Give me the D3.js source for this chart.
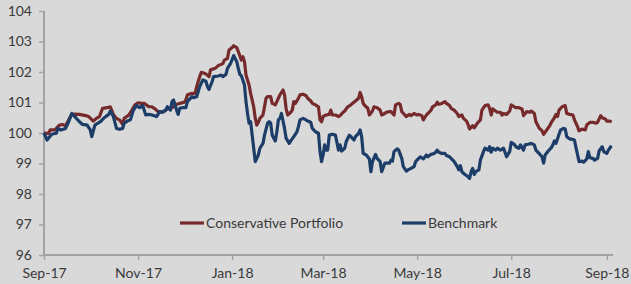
<!DOCTYPE html>
<html>
<head>
<meta charset="utf-8">
<script src="https://cdn.jsdelivr.net/npm/d3@7"></script>
<style>
  html, body { margin: 0; padding: 0; background: #d9d9d9; }
  svg { display: block; }
  .axis text { font-family: "Lato", "Open Sans", sans-serif; font-size: 14px; fill: #3a3a3a; }
  .legend text { font-family: "Lato", "Open Sans", sans-serif; font-size: 14px; fill: #3a3a3a; }
</style>
</head>
<body>
<svg id="chart" width="631" height="284"></svg>
<script>
// ---- data ----
const seriesNames = ["Conservative Portfolio", "Benchmark"];
const seriesColors = ["#762a2b", "#1d3d69"];

const portfolioDates = [
  "2017-09-01","2017-09-04","2017-09-05","2017-09-08","2017-09-09","2017-09-11","2017-09-13","2017-09-15","2017-09-17","2017-09-19",
  "2017-09-21","2017-09-24","2017-09-28","2017-09-30","2017-10-03","2017-10-05","2017-10-07","2017-10-09","2017-10-12","2017-10-14",
  "2017-10-16","2017-10-18","2017-10-20","2017-10-22","2017-10-23","2017-10-26","2017-10-28","2017-10-30","2017-11-01","2017-11-03",
  "2017-11-05","2017-11-08","2017-11-10","2017-11-12","2017-11-14",
  "2017-11-16","2017-11-18","2017-11-20","2017-11-22","2017-11-24","2017-11-26","2017-11-28","2017-12-01","2017-12-02","2017-12-03",
  "2017-12-06","2017-12-08","2017-12-09","2017-12-11","2017-12-12","2017-12-14","2017-12-16","2017-12-17","2017-12-18","2017-12-21",
  "2017-12-23","2017-12-25","2017-12-26","2017-12-27","2017-12-29","2017-12-30","2018-01-01","2018-01-02","2018-01-04","2018-01-05",
  "2018-01-07","2018-01-08","2018-01-09","2018-01-10","2018-01-12","2018-01-13","2018-01-15","2018-01-16","2018-01-17","2018-01-18",
  "2018-01-19","2018-01-21","2018-01-22","2018-01-23","2018-01-24","2018-01-26","2018-01-27","2018-01-29",
  "2018-01-30","2018-02-01","2018-02-03","2018-02-04","2018-02-05","2018-02-06","2018-02-08","2018-02-09","2018-02-10","2018-02-11",
  "2018-02-13","2018-02-14","2018-02-16","2018-02-18","2018-02-19","2018-02-21","2018-02-22","2018-02-24","2018-02-26","2018-02-27",
  "2018-02-28","2018-03-01","2018-03-03","2018-03-05","2018-03-06","2018-03-07","2018-03-09","2018-03-11","2018-03-12","2018-03-14",
  "2018-03-15","2018-03-17","2018-03-19","2018-03-20","2018-03-22","2018-03-24","2018-03-25","2018-03-26","2018-03-27","2018-03-28",
  "2018-03-30","2018-03-31","2018-04-02","2018-04-03","2018-04-05","2018-04-07","2018-04-08","2018-04-10","2018-04-11","2018-04-13",
  "2018-04-14","2018-04-16","2018-04-17","2018-04-19","2018-04-20","2018-04-21","2018-04-23","2018-04-24","2018-04-26","2018-04-27",
  "2018-04-29","2018-05-01","2018-05-02","2018-05-04","2018-05-05","2018-05-07","2018-05-08","2018-05-10","2018-05-11","2018-05-13",
  "2018-05-14","2018-05-15","2018-05-17","2018-05-19","2018-05-20","2018-05-22","2018-05-23","2018-05-25","2018-05-27","2018-05-28",
  "2018-05-30","2018-05-31","2018-06-02","2018-06-03","2018-06-04","2018-06-06","2018-06-07","2018-06-09","2018-06-11","2018-06-12",
  "2018-06-14","2018-06-16","2018-06-17","2018-06-18","2018-06-19","2018-06-20","2018-06-22","2018-06-24","2018-06-25","2018-06-26",
  "2018-06-28","2018-06-30","2018-07-01","2018-07-03","2018-07-04","2018-07-06","2018-07-08","2018-07-09","2018-07-11","2018-07-13",
  "2018-07-14","2018-07-16","2018-07-17","2018-07-19","2018-07-21","2018-07-22","2018-07-24","2018-07-26","2018-07-27","2018-07-29",
  "2018-07-30","2018-07-31","2018-08-01","2018-08-03","2018-08-05","2018-08-06","2018-08-08","2018-08-10","2018-08-11","2018-08-13",
  "2018-08-14","2018-08-16","2018-08-18","2018-08-19","2018-08-21","2018-08-23","2018-08-25","2018-08-26","2018-08-28","2018-08-29",
  "2018-08-31","2018-09-01","2018-09-03","2018-09-04"
];
const portfolioValues = [
  100.00, 99.99, 100.10, 100.10, 100.15, 100.26, 100.28, 100.24, 100.43, 100.61,
  100.62, 100.61, 100.57, 100.54, 100.39, 100.48, 100.54, 100.81, 100.83, 100.86,
  100.61, 100.48, 100.43, 100.28, 100.48, 100.59, 100.75, 100.92, 100.99, 100.97,
  100.97, 100.86, 100.86, 100.79, 100.70,
  100.68, 100.72, 100.79, 100.81, 100.86, 100.94, 100.97, 101.01, 101.08, 101.25,
  101.30, 101.30, 101.52, 101.85, 101.99, 101.96, 101.90, 101.85, 102.07, 102.12,
  102.21, 102.25, 102.28, 102.39, 102.45, 102.72, 102.80, 102.86, 102.80, 102.67,
  102.39, 102.50, 102.34, 101.90, 101.57, 101.30, 100.86, 100.48, 100.26, 100.35,
  100.48, 100.59, 100.86, 101.14, 101.19, 101.19, 100.97, 100.92,
  101.03, 101.25, 101.41, 101.25, 100.81, 100.59, 100.68, 100.75, 101.03, 100.97,
  101.14, 101.25, 101.27, 101.22, 101.14, 101.05, 100.97, 100.92, 100.86, 100.43,
  100.37, 100.54, 100.59, 100.61, 100.75, 100.59, 100.59, 100.54, 100.57, 100.68,
  100.72, 100.86, 100.92, 100.97, 101.05, 101.14, 101.33, 101.19, 100.97, 100.90,
  100.81, 100.59, 100.72, 100.86, 100.83, 100.75, 100.59, 100.64, 100.68, 100.70,
  100.70, 100.59, 100.92, 100.97, 100.94, 100.70, 100.59, 100.54, 100.61, 100.57,
  100.64, 100.59, 100.61, 100.57, 100.43, 100.59, 100.64, 100.75, 100.86, 100.92,
  101.01, 100.94, 100.97, 101.03, 100.97, 100.90, 100.81, 100.75, 100.64, 100.54,
  100.59, 100.48, 100.39, 100.28, 100.13, 100.24, 100.17, 100.32, 100.43, 100.75,
  100.90, 100.92, 100.81, 100.59, 100.79, 100.75, 100.68, 100.68, 100.59, 100.64,
  100.61, 100.72, 100.92, 100.86, 100.83, 100.83, 100.79, 100.57, 100.70, 100.68,
  100.72, 100.64, 100.37, 100.17, 100.07, 99.96, 100.10, 100.24, 100.35, 100.50,
  100.61, 100.54, 100.75, 100.86, 100.90, 100.64, 100.61, 100.59, 100.43, 100.21,
  100.07, 100.13, 100.10, 100.26, 100.35, 100.35, 100.32, 100.35, 100.57, 100.50,
  100.46, 100.39, 100.39, 100.35
];

const benchmarkDates = [
  "2017-09-01","2017-09-03","2017-09-06","2017-09-09","2017-09-10","2017-09-12","2017-09-15","2017-09-17","2017-09-19","2017-09-22",
  "2017-09-24","2017-09-26","2017-09-29","2017-10-01","2017-10-02","2017-10-04","2017-10-06","2017-10-08","2017-10-10","2017-10-13",
  "2017-10-14","2017-10-16","2017-10-18","2017-10-20","2017-10-22","2017-10-23","2017-10-25","2017-10-27","2017-10-29","2017-10-31",
  "2017-11-02","2017-11-04","2017-11-06","2017-11-08","2017-11-10","2017-11-13","2017-11-15",
  "2017-11-17","2017-11-19","2017-11-20","2017-11-22","2017-11-23","2017-11-24","2017-11-26","2017-11-27","2017-11-28","2017-11-30",
  "2017-12-02","2017-12-03","2017-12-06","2017-12-07","2017-12-09","2017-12-11","2017-12-13","2017-12-15","2017-12-16","2017-12-17",
  "2017-12-19","2017-12-20","2017-12-23","2017-12-25","2017-12-26","2017-12-28","2017-12-29","2017-12-31","2018-01-02","2018-01-04",
  "2018-01-05","2018-01-06","2018-01-07","2018-01-09","2018-01-10","2018-01-11","2018-01-12","2018-01-13","2018-01-14","2018-01-16",
  "2018-01-18","2018-01-19","2018-01-21","2018-01-22","2018-01-24","2018-01-25","2018-01-26","2018-01-27","2018-01-29",
  "2018-01-30","2018-01-31","2018-02-01","2018-02-02","2018-02-04","2018-02-05","2018-02-07","2018-02-08","2018-02-10","2018-02-12",
  "2018-02-13","2018-02-14","2018-02-16","2018-02-18","2018-02-19","2018-02-21","2018-02-22","2018-02-24","2018-02-26","2018-02-27",
  "2018-02-28","2018-03-01","2018-03-02","2018-03-03","2018-03-04","2018-03-05","2018-03-07","2018-03-09","2018-03-11","2018-03-12",
  "2018-03-13","2018-03-15","2018-03-16","2018-03-18","2018-03-19","2018-03-21","2018-03-22","2018-03-24","2018-03-25","2018-03-26",
  "2018-03-27","2018-03-29","2018-03-31","2018-04-01","2018-04-02","2018-04-04","2018-04-05","2018-04-07","2018-04-08","2018-04-10",
  "2018-04-11","2018-04-13",
  "2018-04-14","2018-04-15","2018-04-16","2018-04-18","2018-04-19","2018-04-21","2018-04-22","2018-04-24","2018-04-25","2018-04-27",
  "2018-04-29","2018-04-30","2018-05-02","2018-05-03","2018-05-05","2018-05-07","2018-05-08","2018-05-10","2018-05-12","2018-05-13",
  "2018-05-14","2018-05-15","2018-05-17","2018-05-19","2018-05-20","2018-05-22","2018-05-23","2018-05-25","2018-05-27","2018-05-28",
  "2018-05-29","2018-05-30","2018-06-01","2018-06-03","2018-06-04","2018-06-05","2018-06-06","2018-06-07","2018-06-08","2018-06-10",
  "2018-06-11","2018-06-13","2018-06-14","2018-06-16","2018-06-17","2018-06-18","2018-06-19","2018-06-21","2018-06-22","2018-06-24",
  "2018-06-26",
  "2018-06-28","2018-06-30","2018-07-01","2018-07-03","2018-07-04","2018-07-06","2018-07-07","2018-07-09","2018-07-10","2018-07-12",
  "2018-07-14","2018-07-16","2018-07-17","2018-07-19","2018-07-21","2018-07-22","2018-07-23","2018-07-25","2018-07-27","2018-07-28",
  "2018-07-29","2018-07-30","2018-08-01","2018-08-02","2018-08-04","2018-08-05","2018-08-06","2018-08-08","2018-08-09","2018-08-11",
  "2018-08-12","2018-08-14","2018-08-16","2018-08-17","2018-08-19","2018-08-20","2018-08-21","2018-08-23","2018-08-24","2018-08-26",
  "2018-08-27","2018-08-29","2018-08-30","2018-09-01","2018-09-02","2018-09-04"
];
const benchmarkValues = [
  100.00, 99.77, 99.96, 99.99, 100.15, 100.10, 100.15, 100.37, 100.64, 100.48,
  100.37, 100.28, 100.26, 100.10, 99.88, 100.26, 100.32, 100.39, 100.50, 100.61,
  100.72, 100.54, 100.15, 100.12, 100.15, 100.32, 100.39, 100.43, 100.75, 100.90,
  100.83, 100.90, 100.59, 100.61, 100.59, 100.54, 100.70,
  100.68, 100.75, 100.86, 100.75, 101.03, 101.08, 100.75, 100.61, 100.81, 100.83,
  100.83, 101.03, 101.19, 101.16, 101.19, 101.52, 101.74, 101.70, 101.52, 101.43,
  101.68, 101.85, 101.87, 101.90, 101.85, 101.92, 102.12, 102.28, 102.54, 102.34,
  102.12, 101.92, 101.88, 101.57, 101.03, 100.64, 100.32, 100.37, 99.93, 99.06,
  99.28, 99.50, 99.66, 99.93, 100.32, 100.37, 100.32, 99.93, 99.74,
  100.04, 100.43, 100.48, 100.64, 100.15, 99.83, 99.66, 99.74, 99.88, 100.04,
  100.21, 100.43, 100.48, 100.43, 100.39, 100.35, 100.15, 100.04, 99.99, 99.39,
  99.06, 99.28, 99.61, 99.44, 99.44, 99.93, 99.96, 99.93, 99.44, 99.61,
  99.41, 99.50, 99.72, 99.93, 99.88, 99.77, 99.88, 99.99, 100.10, 99.88,
  99.33, 99.28, 99.15, 98.73, 99.06, 99.30, 99.17, 99.06, 98.73, 99.01,
  99.01, 99.01,
  99.11, 99.08, 99.39, 99.48, 99.44, 99.17, 98.90, 98.75, 98.79, 98.84,
  98.90, 99.06, 99.17, 99.22, 99.15, 99.28, 99.22, 99.30, 99.33, 99.37,
  99.44, 99.37, 99.33, 99.33, 99.26, 99.22, 99.17, 99.06, 98.90, 98.79,
  98.93, 98.73, 98.64, 98.57, 98.51, 98.73, 98.84, 98.64, 98.73, 98.79,
  99.11, 99.39, 99.50, 99.44, 99.55, 99.37, 99.50, 99.44, 99.50, 99.44,
  99.50,
  99.22, 99.39, 99.69, 99.63, 99.55, 99.50, 99.61, 99.44, 99.61, 99.63,
  99.66, 99.61, 99.44, 99.33, 99.22, 99.01, 99.28, 99.41, 99.52, 99.61,
  99.74, 99.66, 99.96, 100.10, 100.15, 100.13, 99.88, 99.80, 99.80, 99.77,
  99.52, 99.06, 99.08, 99.04, 99.15, 99.39, 99.19, 99.17, 99.11, 99.17,
  99.41, 99.55, 99.39, 99.33, 99.44, 99.58
];

const xTickDates = ["2017-09-01","2017-11-01","2018-01-01","2018-03-01","2018-05-01","2018-07-01","2018-09-01"];
const yTicks = [96, 97, 98, 99, 100, 101, 102, 103, 104];
const xDomain = ["2017-09-01", "2018-09-05"];

// ---- setup ----
const width = 631, height = 284;
const margin = { top: 11, right: 18, bottom: 29, left: 44 };
const parse = d3.timeParse("%Y-%m-%d");
const fmt = d3.timeFormat("%b-%y");

const svg = d3.select("#chart");

const x = d3.scaleTime()
  .domain(xDomain.map(parse))
  .range([margin.left, width - margin.right]);

const y = d3.scaleLinear()
  .domain([96, 104])
  .range([height - margin.bottom, margin.top]);

const series = [
  { name: seriesNames[0], color: seriesColors[0], points: portfolioDates.map((d, i) => ({ date: parse(d), value: portfolioValues[i] })) },
  { name: seriesNames[1], color: seriesColors[1], points: benchmarkDates.map((d, i) => ({ date: parse(d), value: benchmarkValues[i] })) }
];

// axes
const axisColor = "#a3a3a3";

const yAxis = svg.append("g")
  .attr("class", "axis")
  .attr("transform", `translate(${margin.left},0)`)
  .call(d3.axisLeft(y).tickValues(yTicks).tickSize(5).tickPadding(7).tickFormat(d3.format("d")));

const xAxis = svg.append("g")
  .attr("class", "axis")
  .attr("transform", `translate(0,${height - margin.bottom})`)
  .call(d3.axisBottom(x).tickValues(xTickDates.map(parse)).tickSize(5).tickPadding(8).tickFormat(fmt));

[yAxis, xAxis].forEach((g) => {
  g.select(".domain").attr("stroke", axisColor).attr("stroke-width", 2);
  g.selectAll(".tick line").attr("stroke", axisColor).attr("stroke-width", 1.5);
});
xAxis.select(".domain").attr("d", `M${margin.left},0H${width - margin.right}`);
yAxis.select(".domain").attr("d", `M0,${margin.top}V${height - margin.bottom}`);

// lines: portfolio first, benchmark drawn over it
const line = d3.line()
  .x((d) => x(d.date))
  .y((d) => y(d.value));

svg.append("g")
  .selectAll("path")
  .data(series)
  .join("path")
  .attr("fill", "none")
  .attr("stroke", (d) => d.color)
  .attr("stroke-width", 3.2)
  .attr("stroke-linejoin", "round")
  .attr("d", (d) => line(d.points));

// legend
const legendY = 223;
const legendX = [180, 402];
const legend = svg.append("g").attr("class", "legend");
series.forEach((s, i) => {
  const item = legend.append("g").attr("transform", `translate(${legendX[i]},${legendY})`);
  item.append("line")
    .attr("x1", 0).attr("x2", 24)
    .attr("stroke", s.color)
    .attr("stroke-width", 3.2);
  item.append("text")
    .attr("x", 26)
    .attr("y", 5)
    .text(s.name);
});
</script>
</body>
</html>
